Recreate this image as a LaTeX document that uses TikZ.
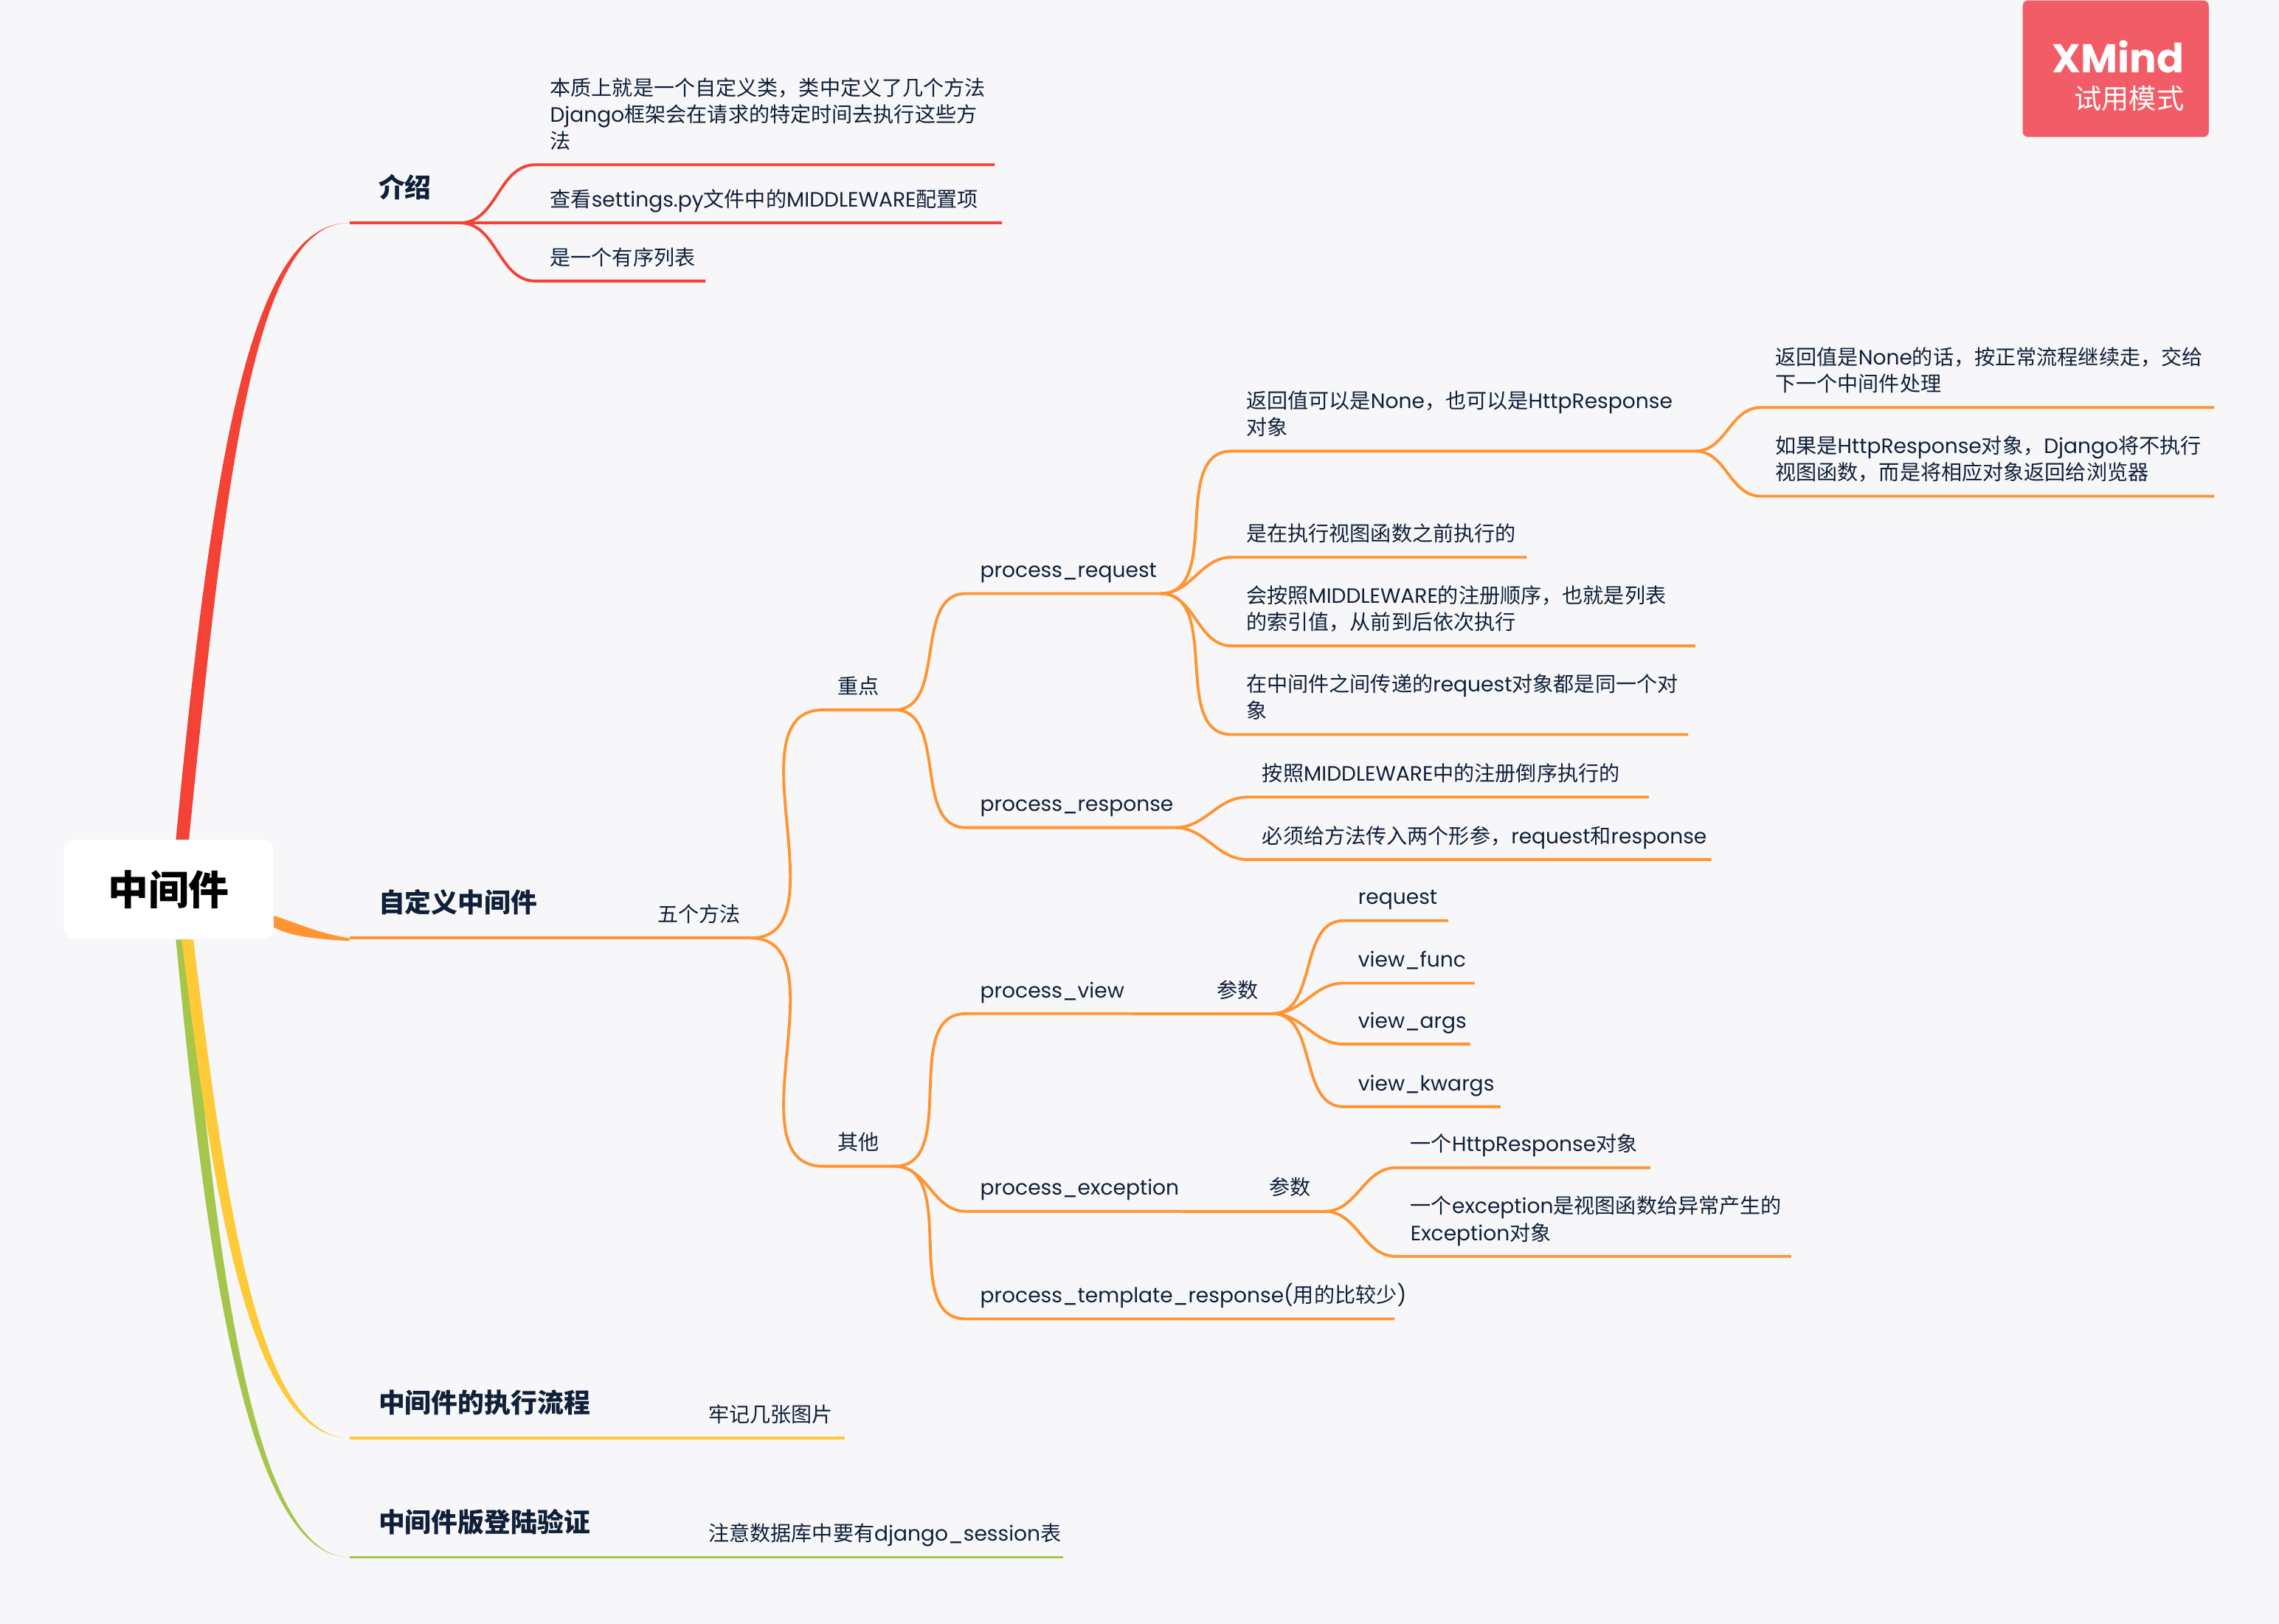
\documentclass[tikz,border=0pt]{standalone}
\usepackage{fontspec}
\usetikzlibrary{calc,positioning}
\setmainfont{Poppins}
\newfontfamily\cjk{Noto Sans CJK SC}
\newcommand{\cn}[1]{{\cjk #1}}
\definecolor{bgcol}{HTML}{F7F7FA}
\definecolor{inkcol}{HTML}{0F2038}
\definecolor{redcol}{HTML}{F44336}
\definecolor{orangecol}{HTML}{FF9430}
\definecolor{yellowcol}{HTML}{FFCA38}
\definecolor{greencol}{HTML}{A4C64A}
\definecolor{badgecol}{HTML}{F25C66}

\begin{document}
\begin{tikzpicture}[
    x=0.0197cm, y=0.0197cm,
    wd/.style={text width=(#1-20)*0.0197cm},
    wdmain/.style={text width=(#1-40)*0.0197cm},
    leaf/.style={inner xsep=0.197cm, inner ysep=3.1pt, outer sep=0, align=left, text=inkcol,
      font=\fontsize{8}{10.3}\selectfont, execute at begin node=\strut, execute at end node=\strut},
    mainleaf/.style={inner xsep=0.394cm, inner ysep=5.9pt, outer sep=0, align=left, text=inkcol,
      font=\fontsize{10.2}{13}\selectfont\bfseries, execute at begin node=\strut, execute at end node=\strut},
    linkred/.style={line width=1.1pt, draw=redcol},
    linkorange/.style={line width=1.1pt, draw=orangecol},
    linkyellow/.style={line width=1pt, draw=yellowcol},
    linkgreen/.style={line width=1pt, draw=greencol},
    every to/.style={out=0, in=180}
  ]
    \useasboundingbox (0,0) rectangle (1568,1117);
    \fill[bgcol] (0,0) rectangle (1568,1117);

    \node[fill=white, rounded corners=0.14cm, minimum width=2.84cm, minimum height=1.34cm,
      font=\fontsize{15.6}{18}\selectfont\bfseries\cjk] (root) at (116,505) {中间件};

    % main topics
    \node[mainleaf, wdmain=76, above right=493 and 52 of root.south east] (intro) {\cn{介绍}};
    \node[mainleaf, wdmain=149, above right=1 and 52 of root.south east] (cust) {\cn{自定义中间件}};
    \node[mainleaf, wdmain=185, above right=-343 and 52 of root.south east] (flow) {\cn{中间件的执行流程}};
    \node[mainleaf, wdmain=185, above right=-425 and 52 of root.south east] (login) {\cn{中间件版登陆验证}};

    % intro
    \node[leaf, wd=316, above right=40 and 52 of intro.south east] (intro1) {\cn{本质上就是一个自定义类，类中定义了几个方法}\\
    Django\cn{框架会在请求的特定时间去执行这些方}\\
    \cn{法}};
    \node[leaf, wd=321, above right=0 and 52 of intro.south east] (intro2) {\cn{查看}settings.py\cn{文件中的}MIDDLEWARE\cn{配置项}};
    \node[leaf, wd=117, above right=-40 and 52 of intro.south east] (intro3) {\cn{是一个有序列表}};

    % five methods
    \node[leaf, wd=74, above right=0 and 53 of cust.south east] (five) {\cn{五个方法}};
    \node[leaf, wd=49, above right=157 and 50 of five.south east] (focus) {\cn{重点}};
    \node[leaf, wd=49, above right=-157 and 50 of five.south east] (other) {\cn{其他}};

    \node[leaf, wd=134, above right=80 and 49 of focus.south east] (preq) {process\_request};
    \node[leaf, wd=144, above right=-81 and 49 of focus.south east] (presp) {process\_response};

    \node[leaf, wd=319, above right=98 and 49 of preq.south east] (retval) {\cn{返回值可以是}None\cn{，也可以是}HttpResponse\\
    \cn{对象}};
    \node[leaf, wd=203, above right=25 and 49 of preq.south east] (before) {\cn{是在执行视图函数之前执行的}};
    \node[leaf, wd=319, above right=-36 and 49 of preq.south east] (order) {\cn{会按照}MIDDLEWARE\cn{的注册顺序，也就是列表}\\
    \cn{的索引值，从前到后依次执行}};
    \node[leaf, wd=314, above right=-97 and 49 of preq.south east] (same) {\cn{在中间件之间传递的}request\cn{对象都是同一个对}\\
    \cn{象}};

    \node[leaf, wd=312, above right=30 and 45 of retval.south east] (isnone) {\cn{返回值是}None\cn{的话，按正常流程继续走，交给}\\
    \cn{下一个中间件处理}};
    \node[leaf, wd=312, above right=-31 and 45 of retval.south east] (ishttp) {\cn{如果是}HttpResponse\cn{对象，}Django\cn{将不执行}\\
    \cn{视图函数，而是将相应对象返回给浏览器}};

    \node[leaf, wd=276, above right=21 and 50 of presp.south east] (rev) {\cn{按照}MIDDLEWARE\cn{中的注册倒序执行的}};
    \node[leaf, wd=319, above right=-22 and 50 of presp.south east] (twoarg) {\cn{必须给方法传入两个形参，}request\cn{和}response};

    % the other three
    \node[leaf, wd=113, above right=105 and 49 of other.south east] (pview) {process\_view};
    \node[leaf, wd=149, above right=-31 and 49 of other.south east] (pexc) {process\_exception};
    \node[leaf, wd=295, above right=-105 and 49 of other.south east] (ptpl) {process\_template\_response(\cn{用的比较少})};

    \node[leaf, wd=48, above right=0 and 50 of pview.south east] (vparam) {\cn{参数}};
    \node[leaf, wd=72, above right=64 and 49 of vparam.south east] (vreq) {request};
    \node[leaf, wd=90, above right=21 and 49 of vparam.south east] (vfunc) {view\_func};
    \node[leaf, wd=87, above right=-21 and 49 of vparam.south east] (vargs) {view\_args};
    \node[leaf, wd=108, above right=-64 and 49 of vparam.south east] (vkwargs) {view\_kwargs};

    \node[leaf, wd=48, above right=0 and 50 of pexc.south east] (eparam) {\cn{参数}};
    \node[leaf, wd=175, above right=30 and 49 of eparam.south east] (ehttp) {\cn{一个}HttpResponse\cn{对象}};
    \node[leaf, wd=272, above right=-31 and 49 of eparam.south east] (eexc) {\cn{一个}exception\cn{是视图函数给异常产生的}\\
    Exception\cn{对象}};

    \node[leaf, wd=104, above right=0 and 52 of flow.south east] (pics) {\cn{牢记几张图片}};
    \node[leaf, wd=254, above right=0 and 52 of login.south east] (session) {\cn{注意数据库中要有}django\_session\cn{表}};

    % main branches, thick at the root
    \fill[greencol] ($(root.south)+(5,0)$) .. controls (142,250) and (170,46) .. (login.south west)
      .. controls (174,46) and (148,250) .. ($(root.south)+(14,0)$) -- cycle;
    \fill[yellowcol] ($(root.south)+(9,0)$) .. controls (146,300) and (170,128) .. (flow.south west)
      .. controls (176,128) and (154,300) .. ($(root.south)+(17,0)$) -- cycle;
    \fill[redcol] ($(root.north)+(5,0)$) .. controls (146,800) and (172,964) .. (intro.south west)
      .. controls (176,964) and (156,800) .. ($(root.north)+(14,0)$) -- cycle;
    \fill[orangecol] ($(root.east)+(0,-18)$) .. controls (204,482) and (222,474) .. (cust.south west)
      -- ++(0,-2) .. controls (220,471) and (202,472) .. ($(root.east)+(0,-26)$) -- cycle;

    % links
    \draw[linkred] (intro.south west) -- (intro.south east);
    \draw[linkred] (intro.south east) to (intro1.south west) -- (intro1.south east);
    \draw[linkred] (intro.south east) to (intro2.south west) -- (intro2.south east);
    \draw[linkred] (intro.south east) to (intro3.south west) -- (intro3.south east);

    \draw[linkorange] (cust.south west) -- (cust.south east) to (five.south west) -- (five.south east);
    \foreach \a/\b in {five/focus, five/other, focus/preq, focus/presp, preq/retval, preq/before,
        preq/order, preq/same, retval/isnone, retval/ishttp, presp/rev, presp/twoarg,
        other/pview, other/pexc, other/ptpl, pview/vparam, vparam/vreq, vparam/vfunc,
        vparam/vargs, vparam/vkwargs, pexc/eparam, eparam/ehttp, eparam/eexc}
      \draw[linkorange] (\a.south east) to (\b.south west) -- (\b.south east);

    \draw[linkyellow] (flow.south west) -- (flow.south east) to (pics.south west) -- (pics.south east);
    \draw[linkgreen] (login.south west) -- (login.south east) to (session.south west) -- (session.south east);

    % trial badge
    \node[fill=badgecol, rounded corners=2pt, minimum width=2.52cm, minimum height=1.85cm, anchor=north east] (badge) at (1520,1117) {};
    \node[text=white, inner sep=0, font=\fontsize{15.5}{18}\selectfont\bfseries, anchor=east] (xm) at (1503,1078) {XMind};
    \node[text=white, inner sep=0, font=\fontsize{10.6}{12}\selectfont\cjk, anchor=east] (trial) at (1503,1049) {试用模式};
  \end{tikzpicture}
\end{document}
